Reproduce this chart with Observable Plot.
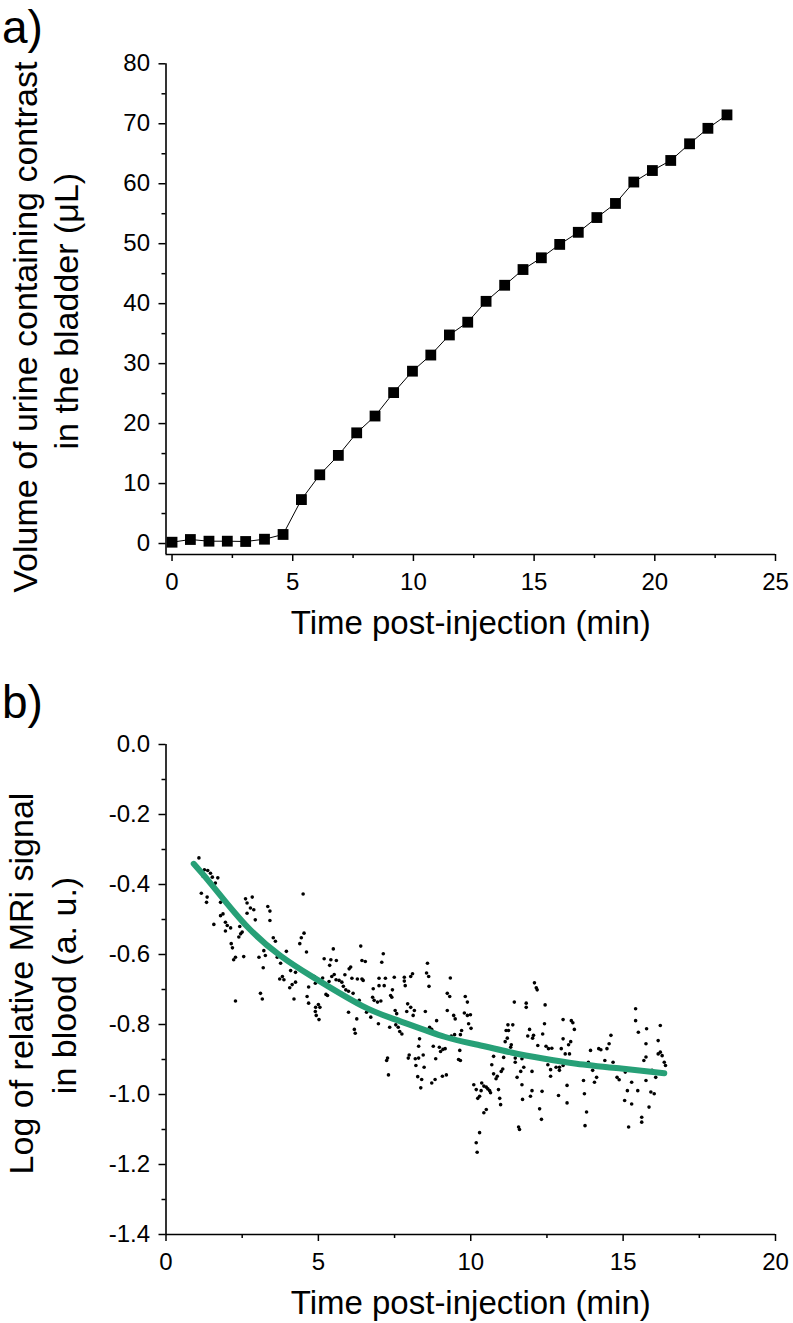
<!DOCTYPE html>
<html>
<head>
<meta charset="utf-8">
<script src="https://cdn.jsdelivr.net/npm/d3@7"></script>
<script src="https://cdn.jsdelivr.net/npm/@observablehq/plot@0.6"></script>
<style>
  html, body { margin: 0; padding: 0; background: #fff; }
  #wrap { position: relative; width: 793px; height: 1323px; overflow: hidden; }
  #panelA { position: absolute; left: 0; top: 0; }
  #panelB { position: absolute; left: 0; top: 680px; }
</style>
</head>
<body>
<div id="wrap"><div id="panelA"></div><div id="panelB"></div></div>
<script>
// ---------- Panel a data ----------
const timeA = [0, 0.76, 1.53, 2.29, 3.05, 3.83, 4.60, 5.36, 6.12, 6.89, 7.65, 8.41, 9.18, 9.96, 10.72, 11.49, 12.25, 13.01, 13.78, 14.54, 15.30, 16.06, 16.83, 17.60, 18.37, 19.13, 19.90, 20.66, 21.44, 22.20, 22.99];
const volumeA = [0.22, 0.67, 0.39, 0.39, 0.34, 0.72, 1.51, 7.33, 11.46, 14.70, 18.46, 21.26, 25.17, 28.74, 31.43, 34.78, 36.91, 40.39, 43.07, 45.69, 47.65, 49.88, 51.90, 54.36, 56.71, 60.28, 62.20, 63.88, 66.66, 69.24, 71.48];
const xTicksA = [0, 5, 10, 15, 20, 25];
const xMinorA = [2.5, 7.5, 12.5, 17.5, 22.5];
const yTicksA = [0, 10, 20, 30, 40, 50, 60, 70, 80];
const yMinorA = [5, 15, 25, 35, 45, 55, 65, 75];
const xDomainA = [-0.25, 25];
const yDomainA = [-1.83, 80];
const yTitleA = ["Volume of urine containing contrast", "in the bladder (\u03bcL)"];
const xTitle = "Time post-injection (min)";

// ---------- Panel b data ----------
const scatterB = [
  [1.08,-0.324],[1.26,-0.358],[1.37,-0.360],[1.46,-0.368],[1.22,-0.377],[1.52,-0.379],[1.70,-0.381],[1.62,-0.396],[1.46,-0.393],[1.16,-0.425],
  [1.35,-0.436],[1.33,-0.451],[1.79,-0.451],[2.61,-0.441],[2.83,-0.436],[2.66,-0.453],[2.77,-0.467],[2.88,-0.472],[2.66,-0.482],[1.87,-0.484],
  [1.79,-0.489],[1.95,-0.508],[2.01,-0.517],[1.57,-0.514],[1.95,-0.533],[2.12,-0.524],[2.42,-0.520],[2.50,-0.536],[2.39,-0.550],[2.45,-0.541],
  [3.34,-0.463],[3.41,-0.476],[2.93,-0.501],[3.41,-0.503],[4.50,-0.427],[4.53,-0.539],[4.44,-0.552],[4.39,-0.569],[4.61,-0.593],[2.14,-0.569],
  [2.18,-0.581],[3.52,-0.552],[3.59,-0.562],[3.21,-0.589],[3.26,-0.603],[2.28,-0.608],[2.22,-0.615],[2.55,-0.606],[3.05,-0.608],[3.65,-0.608],
  [3.76,-0.625],[3.95,-0.591],[3.19,-0.638],[4.09,-0.646],[4.25,-0.651],[3.82,-0.663],[3.73,-0.670],[3.87,-0.672],[4.25,-0.679],[4.14,-0.686],
  [4.06,-0.695],[4.68,-0.693],[3.10,-0.711],[3.16,-0.727],[2.28,-0.733],[4.20,-0.727],[4.63,-0.720],[4.68,-0.739],
  [5.49,-0.584],[6.39,-0.576],[5.19,-0.612],[5.41,-0.615],[5.59,-0.617],[5.37,-0.631],[6.43,-0.617],[6.54,-0.620],[7.13,-0.598],[7.08,-0.622],
  [6.06,-0.636],[6.01,-0.641],[8.58,-0.625],[8.55,-0.653],[8.62,-0.663],[8.63,-0.691],[8.09,-0.655],[8.03,-0.663],[7.82,-0.665],[7.82,-0.676],
  [7.85,-0.689],[7.49,-0.665],[7.20,-0.668],[6.99,-0.668],[6.99,-0.689],[7.16,-0.689],[6.80,-0.698],[7.43,-0.701],[7.37,-0.717],[7.41,-0.722],
  [6.28,-0.670],[6.43,-0.670],[6.47,-0.674],[6.10,-0.668],[5.87,-0.658],[5.52,-0.657],[5.44,-0.663],[5.58,-0.672],[5.68,-0.674],[5.77,-0.679],
  [5.35,-0.677],[5.14,-0.667],[5.08,-0.676],[4.87,-0.663],[4.90,-0.682],[5.82,-0.691],[5.90,-0.701],[5.99,-0.705],[6.14,-0.711],[5.25,-0.714],
  [5.30,-0.717],[6.78,-0.722],[6.83,-0.731],[6.94,-0.736],[7.05,-0.733],[6.34,-0.731],[7.93,-0.741],[5.00,-0.743],
  [9.33,-0.667],[9.23,-0.711],[9.31,-0.720],[9.82,-0.720],[9.89,-0.736],[11.43,-0.736],[11.82,-0.739],[12.09,-0.681],[12.15,-0.695],[12.18,-0.701],[12.44,-0.744],
  [4.91,-0.751],[5.05,-0.751],[4.90,-0.763],[4.93,-0.774],[5.02,-0.786],[5.99,-0.765],[6.26,-0.784],[6.58,-0.765],[6.72,-0.779],[6.18,-0.814],
  [6.21,-0.825],[6.97,-0.798],[7.34,-0.808],[7.52,-0.760],[7.57,-0.769],[7.54,-0.801],[7.62,-0.808],[7.67,-0.820],[7.74,-0.827],[7.90,-0.763],
  [8.03,-0.751],[8.15,-0.760],[8.11,-0.774],[8.51,-0.763],[8.88,-0.789],[8.65,-0.808],[8.72,-0.814],[8.32,-0.841],[8.29,-0.862],[7.98,-0.887],
  [7.95,-0.896],[8.18,-0.898],[8.29,-0.896],[8.44,-0.887],[8.77,-0.862],[8.97,-0.865],[9.01,-0.877],[9.09,-0.871],[8.85,-0.898],[8.20,-0.917],
  [8.47,-0.922],[7.27,-0.896],[7.24,-0.903],[7.30,-0.944],[8.26,-0.949],[8.39,-0.957],[8.36,-0.981],[8.72,-0.967],[8.83,-0.957],[9.07,-0.948],
  [9.23,-0.760],[9.44,-0.774],[9.49,-0.784],[9.79,-0.767],[9.89,-0.774],[9.99,-0.772],[9.93,-0.798],[10.01,-0.811],[9.70,-0.817],[9.66,-0.829],
  [9.47,-0.829],[9.36,-0.833],[9.16,-0.869],[9.64,-0.874],[9.60,-0.900],[9.66,-0.903],[9.20,-0.944],[11.82,-0.751],[11.22,-0.801],[11.38,-0.801],
  [11.16,-0.817],[11.24,-0.817],[11.20,-0.839],[11.13,-0.849],[11.33,-0.858],[11.31,-0.865],[11.93,-0.814],[11.87,-0.833],[12.06,-0.831],[12.03,-0.839],
  [12.42,-0.798],[12.36,-0.827],[12.20,-0.860],[12.47,-0.862],[12.55,-0.869],[12.66,-0.868],[13.03,-0.786],[13.30,-0.789],[13.35,-0.795],[13.40,-0.814],
  [13.03,-0.841],[13.28,-0.849],[13.21,-0.858],[12.97,-0.869],[13.10,-0.884],[13.24,-0.884],[10.75,-0.891],[11.08,-0.894],[11.46,-0.896],[11.68,-0.898],
  [11.46,-0.908],[11.74,-0.922],[11.64,-0.934],[12.01,-0.934],[11.52,-0.951],[11.68,-0.972],[10.69,-0.915],[11.00,-0.934],[11.05,-0.927],[10.75,-0.941],
  [10.87,-0.948],[10.83,-0.955],[12.53,-0.915],[12.62,-0.929],[12.62,-0.948],[12.80,-0.922],[12.91,-0.931],[12.91,-0.922],[13.03,-0.917],[13.16,-0.974],
  [10.10,-0.972],[10.36,-0.967],[10.43,-0.976],[10.51,-0.979],[10.56,-0.984],[10.62,-0.989],[10.65,-0.995],[10.18,-0.986],[10.34,-0.989],[10.29,-1.005],
  [10.23,-1.011],[10.91,-0.986],[10.95,-1.011],[10.98,-1.029],[11.70,-1.014],[11.96,-1.005],[12.01,-0.989],[12.34,-0.991],[12.26,-1.041],[12.32,-1.071],
  [12.88,-1.003],[13.16,-1.024],[10.51,-1.043],[10.43,-1.052],[11.57,-1.093],[11.60,-1.100],[10.29,-1.109],[10.18,-1.138],[10.21,-1.165],
  [13.73,-0.998],[13.75,-1.089],[13.80,-1.050],[13.70,-0.960],[13.86,-0.908],[13.93,-0.874],[14.00,-0.931],[14.06,-0.965],[14.13,-0.951],[14.20,-0.869],
  [14.27,-0.872],[14.33,-0.922],[14.40,-0.903],[14.54,-0.855],[14.60,-0.831],[14.47,-0.869],[14.67,-0.908],[14.80,-0.951],[14.87,-0.958],[15.07,-0.936],
  [15.14,-0.989],[15.05,-1.017],[15.28,-1.027],[15.18,-1.093],[15.28,-0.965],[15.41,-0.755],[15.41,-0.789],[15.50,-0.822],[15.48,-0.989],[15.68,-0.903],
  [15.75,-0.893],[15.77,-0.812],[15.75,-0.960],[15.85,-1.036],[15.91,-0.993],[16.02,-0.998],[15.61,-1.065],[15.61,-1.079],[16.15,-0.846],[16.22,-0.803],
  [16.22,-0.879],[16.28,-0.889],[16.35,-0.908],[16.15,-0.884],[15.95,-0.931],[16.39,-0.917],[16.07,-0.951],[15.75,-0.855]
];
const fitT = [0.91, 1.57, 2.66, 3.76, 4.81, 6.42, 7.54, 9.14, 10.23, 11.33, 12.42, 13.47, 14.94, 16.35];
const fitV = [-0.341, -0.408, -0.520, -0.604, -0.664, -0.746, -0.786, -0.835, -0.858, -0.880, -0.898, -0.912, -0.926, -0.939];
const xTicksB = [0, 5, 10, 15, 20];
const xMinorB = [2.5, 7.5, 12.5, 17.5];
const yTicksB = [0, -0.2, -0.4, -0.6, -0.8, -1.0, -1.2, -1.4];
const yMinorB = [-0.1, -0.3, -0.5, -0.7, -0.9, -1.1, -1.3];
const xDomainB = [0, 20];
const yDomainB = [-1.4, 0];
const yTitleB = ["Log of relative MRi signal", "in blood (a. u.)"];

// ---------- styling ----------
const FONT = "'Liberation Sans', Arial, Helvetica, sans-serif";
const fitColor = "#27a077";

const dataA = timeA.map((t, i) => ({t, v: volumeA[i]}));
const fitB = fitT.map((t, i) => ({t, v: fitV[i]}));

function axes(xT, xM, yT, yM, xMin, yMin, fmtY) {
  return [
    Plot.axisX(xM, {tickSize: 4, strokeWidth: 1.5, tickFormat: () => "", label: null}),
    Plot.axisX(xT, {tickSize: 7, strokeWidth: 1.5, tickPadding: 11, fontSize: 24, label: null}),
    Plot.axisY(yM, {tickSize: 4, strokeWidth: 1.5, tickFormat: () => "", label: null}),
    Plot.axisY(yT, {tickSize: 7, strokeWidth: 1.5, tickPadding: 9, fontSize: 24, tickFormat: fmtY, label: null}),
    Plot.ruleX([xMin], {stroke: "black", strokeWidth: 1.6}),
    Plot.ruleY([yMin], {stroke: "black", strokeWidth: 1.6})
  ];
}

function titles(yTitle, dxs, dys, panelLabel, dyPanel) {
  return [
    Plot.text([yTitle[0]], {frameAnchor: "left", dx: dxs[0], dy: dys[0], rotate: -90, fontSize: 34, text: d => d, textAnchor: "middle", lineAnchor: "middle", fill: "black"}),
    Plot.text([yTitle[1]], {frameAnchor: "left", dx: dxs[1], dy: dys[1], rotate: -90, fontSize: 34, text: d => d, textAnchor: "middle", lineAnchor: "middle", fill: "black"}),
    Plot.text([xTitle], {frameAnchor: "bottom", dy: 68.5, fontSize: 33, text: d => d, textAnchor: "middle", lineAnchor: "middle", fill: "black"}),
    Plot.text([panelLabel], {frameAnchor: "top-left", dx: -164, dy: dyPanel, fontSize: 46, text: d => d, textAnchor: "start", lineAnchor: "middle", fill: "black"})
  ];
}

const plotA = Plot.plot({
  width: 793, height: 680,
  marginLeft: 165.5, marginRight: 18, marginTop: 63.3, marginBottom: 126,
  style: {fontFamily: FONT, fontSize: "24px", color: "black", background: "white", overflow: "visible"},
  x: {domain: xDomainA, label: null},
  y: {domain: yDomainA, label: null},
  marks: [
    ...axes(xTicksA, xMinorA, yTicksA, yMinorA, xDomainA[0], yDomainA[0], d => String(d)),
    Plot.line(dataA, {x: "t", y: "v", stroke: "black", strokeWidth: 1}),
    Plot.dot(dataA, {x: "t", y: "v", symbol: "square", r: 6.1, fill: "black", stroke: "none"}),
    ...titles(yTitleA, [-140, -99], [18, 2], "a)", -35.5)
  ]
});
document.getElementById("panelA").appendChild(plotA);

const plotB = Plot.plot({
  width: 793, height: 643,
  marginLeft: 165.5, marginRight: 18, marginTop: 64, marginBottom: 89,
  style: {fontFamily: FONT, fontSize: "24px", color: "black", background: "white", overflow: "visible"},
  x: {domain: xDomainB, label: null},
  y: {domain: yDomainB, label: null},
  marks: [
    ...axes(xTicksB, xMinorB, yTicksB, yMinorB, xDomainB[0], yDomainB[0], d => d.toFixed(1)),
    Plot.dot(scatterB, {x: d => d[0], y: d => d[1], r: 1.8, fill: "black", stroke: "none"}),
    Plot.line(fitB, {x: "t", y: "v", stroke: fitColor, strokeWidth: 6, curve: "natural"}),
    ...titles(yTitleB, [-143.5, -101], [-6, -4], "b)", -41.4)
  ]
});
document.getElementById("panelB").appendChild(plotB);
</script>
</body>
</html>
